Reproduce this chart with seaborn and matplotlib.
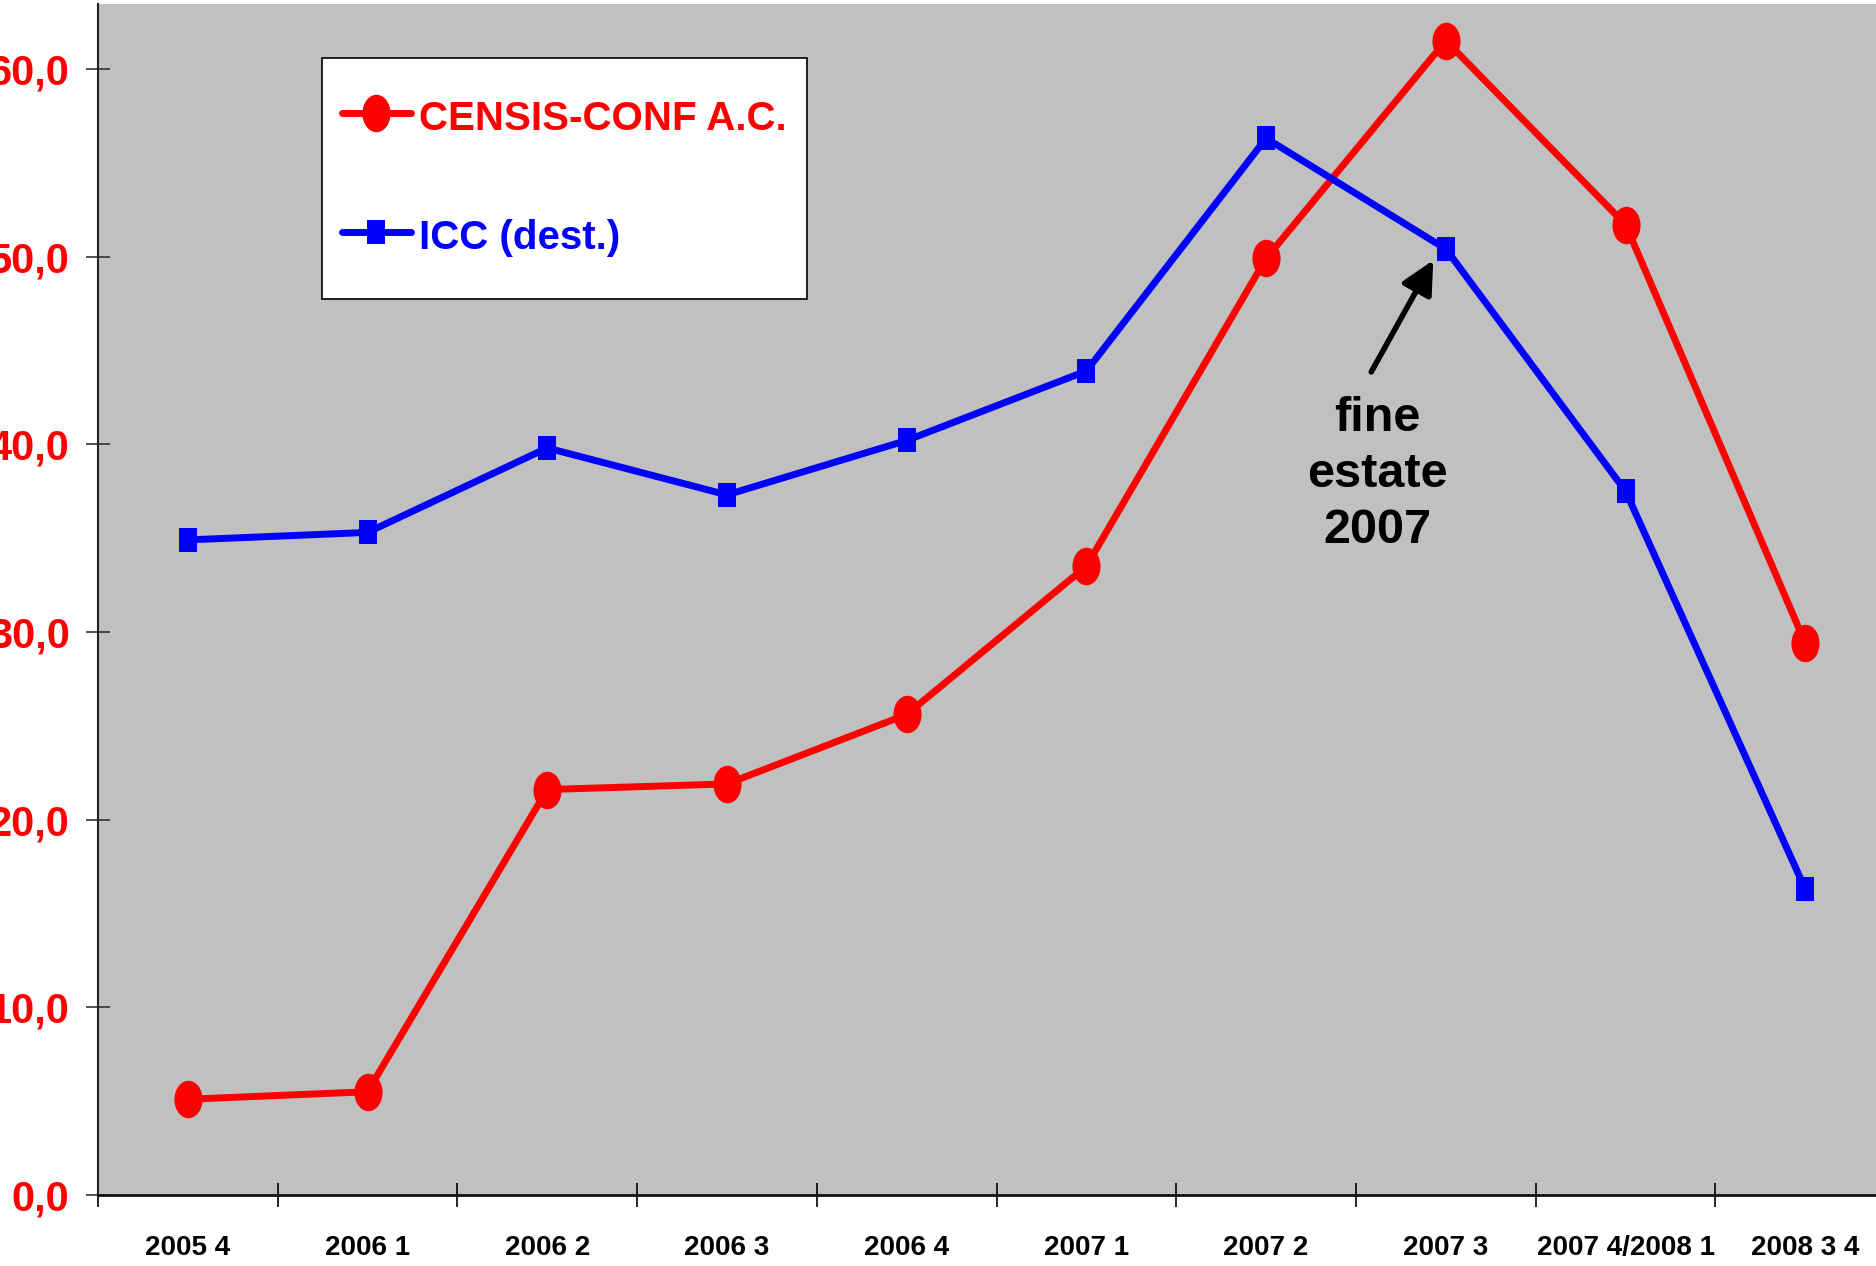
import matplotlib.pyplot as plt
import numpy as np
import pandas as pd
import seaborn as sns
from matplotlib.path import Path
from matplotlib.transforms import Affine2D
from matplotlib.ticker import FixedLocator, FuncFormatter
from matplotlib.font_manager import FontProperties

periods = ["2005 4", "2006 1", "2006 2", "2006 3", "2006 4",
           "2007 1", "2007 2", "2007 3", "2007 4/2008 1", "2008 3 4"]
censis = [5.1, 5.5, 21.6, 21.9, 25.6, 33.5, 49.9, 61.5, 51.7, 29.4]
icc = [34.9, 35.3, 39.8, 37.3, 40.2, 43.9, 56.3, 50.4, 37.5, 16.3]

df = pd.DataFrame({"pos": np.arange(len(periods)), "censis": censis, "icc": icc})

sns.set_theme(style="white")
arial = ["Liberation Sans", "DejaVu Sans"]
plt.rcParams["font.family"] = arial

fig = plt.figure(figsize=(18.76, 12.66), dpi=100)
ax = fig.add_axes([0.0522, 0.0561, 0.958, 0.9407])
ax.set_facecolor("#C0C0C0")

# tall ellipse / tall rectangle markers like the original
ellipse = Path.unit_circle().transformed(Affine2D().scale(0.75, 1.0))
rect = Path([(-0.375, -0.5), (0.375, -0.5), (0.375, 0.5), (-0.375, 0.5), (-0.375, -0.5)],
            [Path.MOVETO, Path.LINETO, Path.LINETO, Path.LINETO, Path.CLOSEPOLY])

sns.lineplot(data=df, x="pos", y="censis", ax=ax, color="#FF0000", lw=5,
             marker=ellipse, markersize=27, markeredgewidth=0,
             label="CENSIS-CONF A.C.")
sns.lineplot(data=df, x="pos", y="icc", ax=ax, color="#0000FF", lw=5,
             marker=rect, markersize=17.5, markeredgewidth=0,
             label="ICC (dest.)")

ax.set_xlim(-0.5, len(periods) - 0.5)
ax.set_ylim(0, 63.45)
ax.set_xlabel("")
ax.set_ylabel("")

# category boundaries get tick marks, centres get the labels
ax.xaxis.set_major_locator(FixedLocator(np.arange(len(periods) + 1) - 0.5))
ax.xaxis.set_minor_locator(FixedLocator(np.arange(len(periods))))
ax.set_xticklabels([], minor=False)
ax.set_xticklabels(periods, minor=True)
ax.tick_params(axis="x", which="major", direction="inout", length=17, width=1.2,
               color="black", bottom=True)
ax.tick_params(axis="x", which="minor", length=0, pad=29, labelsize=20,
               labelcolor="black")
for t in ax.get_xticklabels(minor=True):
    t.set_fontweight("bold")

ax.set_yticks(np.arange(0, 61, 10))
ax.yaxis.set_major_formatter(FuncFormatter(lambda v, p: f"{v:.1f}".replace(".", ",")))
ax.tick_params(axis="y", direction="inout", length=17, width=1.2, color="#333333",
               left=True, pad=12, labelsize=30, labelcolor="#FF0000")
for t in ax.get_yticklabels():
    t.set_fontweight("bold")

for side in ["top", "right"]:
    ax.spines[side].set_visible(False)
ax.spines["left"].set_color("#222222")
ax.spines["left"].set_linewidth(1.5)
ax.spines["bottom"].set_color("#111111")
ax.spines["bottom"].set_linewidth(2)

legfont = FontProperties(family=arial, weight="bold", size=29)
leg = ax.legend(loc="upper left", bbox_to_anchor=(322 / 1876, 1 - 58 / 1266),
                bbox_transform=fig.transFigure, frameon=True,
                fancybox=False, edgecolor="black", facecolor="white", framealpha=1,
                handlelength=1.7, handleheight=2.75, handletextpad=0.22,
                labelspacing=0.92, borderpad=0.5, borderaxespad=0,
                labelcolor="linecolor", prop=legfont)
leg.get_frame().set_linewidth(1.2)
# centre the text on the (tall) handle rows and drop the handles onto the text
for col in leg._legend_handle_box.get_children():
    for row in col.get_children():
        row.align = "center"
for h in leg.legend_handles:
    h.set_ydata(np.asarray(h.get_ydata()) - 6)

ax.annotate("", xy=(6.93, 49.8), xytext=(6.585, 43.85),
            arrowprops=dict(arrowstyle="-|>", lw=4, color="black",
                            mutation_scale=50, shrinkA=0, shrinkB=0))
ax.text(6.62, 38.4, "fine\nestate\n2007", ha="center", va="center",
        fontsize=35, fontweight="bold", color="black", linespacing=1.32)

plt.savefig("out.png", dpi=100)
